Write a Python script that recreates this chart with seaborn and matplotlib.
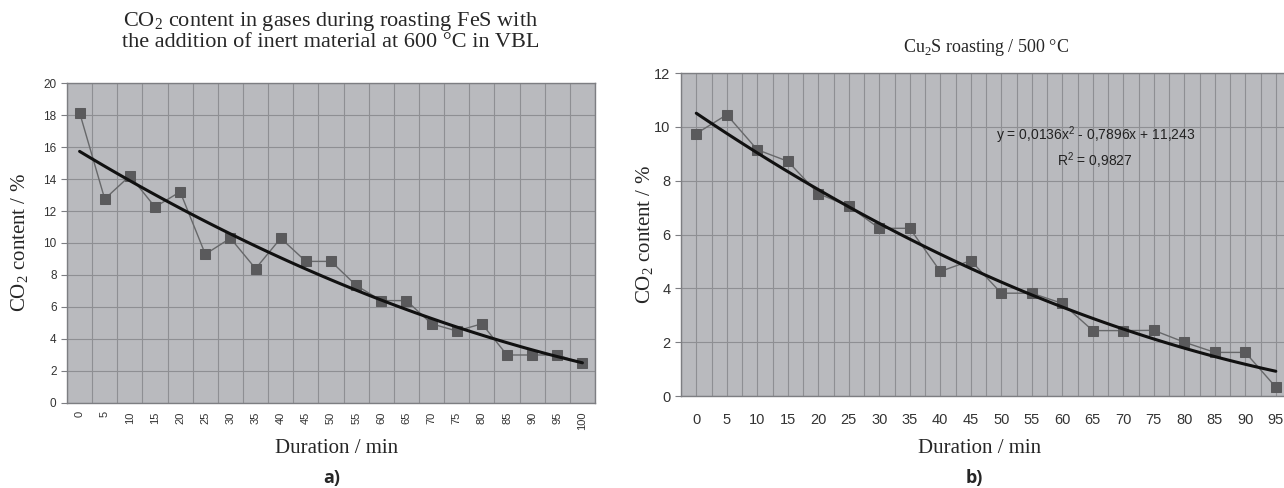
import numpy as np
import seaborn as sns
import matplotlib.pyplot as plt

# panel a) FeS + inert material, 600 C
dur_a = [0, 5, 10, 15, 20, 25, 30, 35, 40, 45, 50, 55, 60, 65, 70, 75, 80, 85, 90, 95, 100]
co2_a = [18.15, 12.75, 14.2, 12.25, 13.2, 9.3, 10.3, 8.4, 10.3, 8.85, 8.85, 7.35,
         6.4, 6.4, 4.95, 4.5, 4.95, 3.0, 3.0, 3.0, 2.5]

# panel b) Cu2S, 500 C
dur_b = [0, 5, 10, 15, 20, 25, 30, 35, 40, 45, 50, 55, 60, 65, 70, 75, 80, 85, 90, 95]
co2_b = [9.75, 10.45, 9.15, 8.72, 7.52, 7.05, 6.23, 6.23, 4.63, 5.03, 3.82, 3.82,
         3.44, 2.43, 2.43, 2.44, 2.0, 1.62, 1.62, 0.33]

eq_b = "y = 0,0136x$^{\\mathsf{2}}$ - 0,7896x + 11,243\nR$^{\\mathsf{2}}$ = 0,9827"

sns.set_style("white")
plt.rcParams['font.family'] = ['Liberation Sans', 'DejaVu Sans']
plt.rcParams['mathtext.fontset'] = 'custom'
plt.rcParams['mathtext.rm'] = 'Liberation Serif'
plt.rcParams['mathtext.sf'] = 'Liberation Sans'

bg = '#b9babe'
gridc = '#8e8f93'
edge = '#7d7e82'
mark = '#5a5a5c'
serif = 'Liberation Serif'

fig = plt.figure(figsize=(12.84, 4.88), dpi=100)
ax1 = fig.add_axes([0.0522, 0.1742, 0.4112, 0.6557])
ax2 = fig.add_axes([0.5304, 0.1885, 0.4751, 0.6619])


def draw(ax, dur, co2):
    pos = np.arange(len(dur))
    ax.set_facecolor(bg)
    sns.lineplot(x=pos, y=co2, ax=ax, color='#67686a', linewidth=1.0, marker='s',
                 markersize=6.5, markerfacecolor=mark, markeredgecolor=mark, zorder=3)
    sns.regplot(x=pos + 1, y=co2, ax=ax, order=2, ci=None, scatter=False, truncate=True,
                line_kws={'color': '#111111', 'linewidth': 2.2, 'zorder': 4})
    # regplot used x=1..n like the spreadsheet trendline, shift back to category positions
    ln = ax.lines[-1]
    ln.set_xdata(np.asarray(ln.get_xdata()) - 1)
    ax.set_xlim(-0.5, len(dur) - 0.5)
    ax.set_xticks(pos)
    ax.set_xticklabels([str(d) for d in dur])
    ax.set_xticks(np.arange(len(dur) + 1) - 0.5, minor=True)
    for s in ax.spines.values():
        s.set_color(edge)
        s.set_linewidth(1.0)
    ax.set_xlabel('Duration / min', family=serif, fontsize=15)
    ax.set_ylabel('CO$_2$ content / %', family=serif, fontsize=15)
    return pos


draw(ax1, dur_a, co2_a)
ax1.set_ylim(0, 20)
ax1.set_yticks(range(0, 21, 2))
ax1.grid(True, which='minor', axis='x', color=gridc, linewidth=0.8)
ax1.grid(True, which='major', axis='y', color=gridc, linewidth=0.8)
ax1.tick_params(axis='x', which='major', length=0, labelsize=8, labelrotation=90, pad=6,
                colors='#333333')
ax1.tick_params(axis='x', which='minor', length=4, color=edge, direction='out')
ax1.tick_params(axis='y', length=4, color=edge, labelsize=8.5, colors='#333333', left=True)
ax1.xaxis.set_label_coords(0.51, -0.112)
ax1.yaxis.set_label_coords(-0.068, 0.5)
ax1.set_title('CO$_2$ content in gases during roasting FeS with\n'
              'the addition of inert material at 600 °C in VBL',
              family=serif, fontsize=16, pad=26, linespacing=1.0)

draw(ax2, dur_b, co2_b)
ax2.set_ylim(0, 12)
ax2.set_yticks(range(0, 13, 2))
ax2.grid(True, which='both', axis='x', color=gridc, linewidth=0.8)
ax2.grid(True, which='major', axis='y', color=gridc, linewidth=0.8)
ax2.tick_params(axis='x', which='both', length=4, color=edge, direction='out',
                labelsize=10.5, colors='#333333', pad=8)
ax2.tick_params(axis='x', which='minor', colors=edge)
ax2.tick_params(axis='y', length=4, color=edge, labelsize=10.5, colors='#333333', left=True)
ax2.xaxis.set_label_coords(0.49, -0.133)
ax2.yaxis.set_label_coords(-0.041, 0.5)
ax2.set_title('Cu$_2$S roasting / 500 °C', family=serif, fontsize=13, pad=15)
ax2.text(0.679, 0.768, eq_b, transform=ax2.transAxes, ha='center', va='center',
         fontsize=10, color='#222222', linespacing=1.3)

fig.text(0.258, 0.0205, 'a)', family='Open Sans', weight='bold', fontsize=13,
         ha='center', va='center')
fig.text(0.759, 0.0205, 'b)', family='Open Sans', weight='bold', fontsize=13,
         ha='center', va='center')

fig.savefig('out.png', dpi=100)
